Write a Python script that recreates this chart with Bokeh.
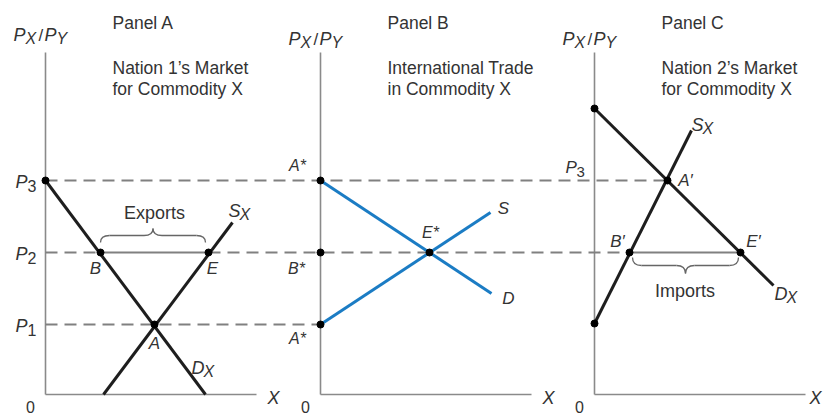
import numpy as np
from bokeh.plotting import figure
from bokeh.models import Range1d
from bokeh.core.properties import value
from bokeh.embed import file_html
from bokeh.resources import INLINE

# ---------------- data (quantity, relative price) per panel ----------------
price_levels = [70, 142, 214]          # P1, P2, P3 (height above quantity axis)
price_subs = ["1", "2", "3"]

# Panel A: Nation 1's market for commodity X
a_dem_q = [0, 160]
a_dem_p = [214, 0]
a_sup_q = [58, 187]
a_sup_p = [0, 172]
a_pt_q = [0, 55, 163, 109]
a_pt_p = [214, 142, 142, 70]
a_pt_lab = ["", "B", "E", "A"]

# Panel B: international trade in commodity X
b_dem_q = [0, 171]
b_dem_p = [214, 101]
b_sup_q = [0, 170]
b_sup_p = [70, 182]
b_pt_q = [0, 0, 0, 109]
b_pt_p = [214, 142, 70, 142]
b_pt_lab = ["A*", "B*", "A*", "E*"]

# Panel C: Nation 2's market for commodity X
c_dem_q = [0, 179]
c_dem_p = [286, 109]
c_sup_q = [0, 97]
c_sup_p = [71, 264]
c_pt_q = [0, 0, 73, 35, 146]
c_pt_p = [286, 71, 214, 142, 142]
c_pt_lab = ["", "", "A\u2032", "B\u2032", "E\u2032"]

panel_names = ["Panel A", "Panel B", "Panel C"]
panel_titles = [["Nation 1\u2019s Market", "for Commodity X"],
                ["International Trade", "in Commodity X"],
                ["Nation 2\u2019s Market", "for Commodity X"]]

# ---------------- layout ----------------
ORIG = [45, 320, 594]      # x position of each panel's price axis
AX_H = 342
AX_W = 211
W, H = 823, 414
Y0 = 394                   # pixel row of the quantity axis

FONT = value("Liberation Sans")
TXT = "#333333"
GREY = "#8a8a8a"
DASH = "#808080"
BLACK = "#1e1e1e"
BLUE = "#1b7cc4"

p = figure(width=W, height=H, output_backend="svg", toolbar_location=None,
           x_range=Range1d(0, W), y_range=Range1d(Y0 - H, Y0),
           min_border=0)
p.axis.visible = False
p.grid.visible = False
p.outline_line_color = None
p.background_fill_color = "white"


def X(i, q):
    return [ORIG[i] + v for v in q]


def txt(x, y, t, size="17px", style="normal", align="center", color=TXT):
    p.text(x=[x], y=[y], text=[t], text_font=FONT, text_font_size=size,
           text_font_style=style, text_align=align, text_baseline="middle",
           text_color=color)


def sub(x, y, main, s, size="17px", ssize="15px", style="italic", gap=12,
        sstyle=None):
    # main letter left-aligned at x, subscript right after it, a little lower
    txt(x, y, main, size=size, style=style, align="left")
    txt(x + gap, y - 4, s, size=ssize, style=sstyle or style, align="left")


def brace(x0, x1, y, h, color="#666666"):
    xm = (x0 + x1) / 2.0
    r = 9.0
    yh = y + h / 2.0
    yt = y + h
    p.quadratic(x0=[x0, xm - r, xm + r, x1], y0=[y, yh, yh, y],
                x1=[x0 + r, xm, xm, x1 - r], y1=[yh, yt, yt, yh],
                cx=[x0, xm, xm, x1], cy=[yh, yh, yh, yh],
                line_color=color, line_width=1.3)
    p.segment(x0=[x0 + r, xm + r], y0=[yh, yh], x1=[xm - r, x1 - r], y1=[yh, yh],
              line_color=color, line_width=1.3)


# ---------------- axes ----------------
for i in range(3):
    o = ORIG[i]
    p.line([o, o], [0, AX_H], line_color=GREY, line_width=1.6)
    p.line([o, o + AX_W], [0, 0], line_color=GREY, line_width=1.6)
    txt(min(o + 228, W - 8), -3, "X", size="18px", style="italic")
    txt(o - 15, -12, "0", size="16px")

# ---------------- price lines ----------------
P1, P2, P3 = price_levels
xa = X(0, a_pt_q)
xc = X(2, c_pt_q)
dash_kw = dict(line_color=DASH, line_width=2, line_dash="12 7")
p.line([ORIG[0], xc[2]], [P3, P3], **dash_kw)
p.line([ORIG[0], xa[1]], [P2, P2], **dash_kw)
p.line([xa[2], xc[3]], [P2, P2], **dash_kw)
p.line([xa[1], xa[2]], [P2, P2], line_color=DASH, line_width=2)
p.line([xc[3], xc[4]], [P2, P2], line_color=DASH, line_width=2)
p.line([ORIG[0], ORIG[1]], [P1, P1], **dash_kw)

# ---------------- curves ----------------
p.line(X(0, a_dem_q), a_dem_p, line_color=BLACK, line_width=3)
p.line(X(0, a_sup_q), a_sup_p, line_color=BLACK, line_width=3)
p.line(X(1, b_dem_q), b_dem_p, line_color=BLUE, line_width=3)
p.line(X(1, b_sup_q), b_sup_p, line_color=BLUE, line_width=3)
p.line(X(2, c_dem_q), c_dem_p, line_color=BLACK, line_width=3)
p.line(X(2, c_sup_q), c_sup_p, line_color=BLACK, line_width=3)

# ---------------- points ----------------
p.scatter(X(0, a_pt_q), a_pt_p, size=7, color="black")
p.scatter(X(1, b_pt_q), b_pt_p, size=7, color="black")
p.scatter(X(2, c_pt_q), c_pt_p, size=7, color="black")

# ---------------- titles ----------------
for i in range(3):
    o = ORIG[i] + 67
    txt(o, 372, panel_names[i], size="17.5px", align="left")
    txt(o, 327, panel_titles[i][0], size="17.5px", align="left")
    txt(o, 306, panel_titles[i][1], size="17.5px", align="left")

# P_X / P_Y axis titles
for i, yy in zip(range(3), [360, 356, 356]):
    x0 = ORIG[i] - 32
    sub(x0, yy, "P", "X", size="18px", ssize="16px")
    txt(x0 + 25, yy - 1, "/", size="17px", align="left")
    sub(x0 + 31, yy, "P", "Y", size="18px", ssize="16px")

# price labels
for lv, s in zip(price_levels, price_subs):
    sub(15, lv - 1, "P", s, size="18px", ssize="16px", gap=12, sstyle="normal")
sub(ORIG[2] - 29, P3 + 13, "P", "3", size="17px", ssize="15px", gap=11,
    sstyle="normal")

# point labels
pt_off_a = [(0, 0), (-5, -16), (4, -16), (0, -19)]
for q, pp, lab, (dx, dy) in zip(xa, a_pt_p, a_pt_lab, pt_off_a):
    if lab:
        txt(q + dx, pp + dy, lab, size="17px", style="italic")
pt_off_b = [(-23, 15), (-24, -16), (-23, -14), (1, 20)]
for q, pp, lab, (dx, dy) in zip(X(1, b_pt_q), b_pt_p, b_pt_lab, pt_off_b):
    txt(q + dx, pp + dy, lab, size="16px", style="italic")
pt_off_c = [(0, 0), (0, 0), (18, 0), (-12, 11), (13, 11)]
for q, pp, lab, (dx, dy) in zip(xc, c_pt_p, c_pt_lab, pt_off_c):
    if lab:
        txt(q + dx, pp + dy, lab, size="17px", style="italic")

# curve labels
sub(ORIG[0] + 183, 184, "S", "X", size="18px", ssize="16px", gap=11)
sub(ORIG[0] + 146, 27, "D", "X", size="18px", ssize="16px", gap=12)
txt(ORIG[1] + 183, 186, "S", size="17px", style="italic")
txt(ORIG[1] + 188, 96, "D", size="17px", style="italic")
sub(ORIG[2] + 97, 270, "S", "X", size="18px", ssize="16px", gap=11)
sub(ORIG[2] + 180, 101, "D", "X", size="18px", ssize="16px", gap=12)

# braces and trade labels
brace(xa[1], xa[2] - 3, P2 + 10, 14)
txt((xa[1] + xa[2]) / 2.0, 182, "Exports", size="18px")
brace(xc[3] + 3, xc[4] - 2, P2 - 5, -16)
txt((xc[3] + xc[4]) / 2.0, 104, "Imports", size="18px")

open("out.html", "w").write(file_html(p, INLINE))
